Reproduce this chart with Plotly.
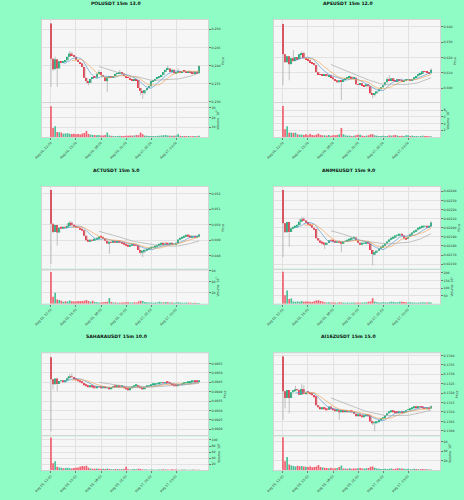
import pandas as pd
import plotly.graph_objects as go

# colours / style
BG = '#8efcc4'
PLOT_BG = '#f6f6f6'
GRID = '#e2e2e2'
UP_COLOR = '#1db37e'
DOWN_COLOR = '#f03a4c'
UP_VOL = 'rgba(29,179,126,0.8)'
DOWN_VOL = 'rgba(240,58,76,0.8)'
WICK_COLOR = '#9c9c9c'
MA_COLORS = ['#5a9bd6', '#f2a65a', '#a9a9a9']
MA_WINDOWS = [7, 11, 24]
FONT = 'DejaVu Sans'

DATE_POS = [0, 12, 24, 36, 48, 60]
DATE_LABELS = ['Aug 16, 12:00', 'Aug 16, 15:00', 'Aug 16, 18:00',
               'Aug 16, 21:00', 'Aug 17, 00:00', 'Aug 17, 03:00']

# =====================================================
# POLUSDT  (prices in 1e-4)
POL_OPEN = [2516, 2419, 2390, 2417, 2392, 2412, 2407, 2411, 2415, 2424, 2433, 2429,
            2424, 2415, 2410, 2406, 2396, 2366, 2357, 2352, 2363, 2368, 2367, 2377,
            2382, 2374, 2368, 2357, 2368, 2370, 2366, 2371, 2377, 2379, 2382, 2378,
            2371, 2367, 2366, 2361, 2359, 2363, 2360, 2338, 2330, 2324, 2332, 2338,
            2343, 2357, 2360, 2363, 2366, 2371, 2374, 2382, 2388, 2392, 2382, 2388,
            2379, 2382, 2383, 2382, 2385, 2383, 2382, 2385, 2381, 2379, 2383, 2379]
POL_CLOSE = [2419, 2390, 2417, 2392, 2412, 2407, 2411, 2415, 2424, 2433, 2429, 2424,
             2415, 2410, 2406, 2396, 2366, 2357, 2352, 2363, 2368, 2367, 2377, 2382,
             2374, 2368, 2357, 2368, 2370, 2366, 2371, 2377, 2379, 2382, 2378, 2371,
             2367, 2366, 2361, 2359, 2363, 2360, 2338, 2330, 2324, 2332, 2338, 2343,
             2357, 2360, 2363, 2366, 2371, 2374, 2382, 2388, 2392, 2382, 2388, 2379,
             2382, 2383, 2382, 2385, 2383, 2382, 2385, 2381, 2379, 2383, 2379, 2399]
POL_HIGH = {0: 2516, 2: 2425, 9: 2440, 10: 2438, 23: 2388, 33: 2388, 56: 2400, 61: 2392, 71: 2401}
POL_LOW = {0: 2341, 1: 2385, 3: 2341, 17: 2350, 18: 2345, 27: 2327, 43: 2318, 44: 2308, 45: 2320}
POL_VOL = [31.3, 9.2, 10.9, 5.1, 4.8, 4.5, 3.4, 3.6, 3.9, 3.2,
           3.0, 3.3, 2.8, 3.0, 2.6, 3.5, 4.0, 6.2, 3.1, 2.5,
           2.2, 2.0, 1.8, 2.1, 1.6, 1.5, 2.0, 4.5, 1.6, 1.2,
           1.0, 0.9, 1.0, 1.2, 0.9, 1.1, 1.3, 1.2, 1.5, 1.4,
           1.6, 2.0, 1.8, 4.5, 2.8, 1.4, 1.2, 1.0, 1.1, 1.0,
           0.9, 1.1, 1.3, 1.6, 1.8, 2.0, 1.5, 1.4, 1.2, 1.3,
           1.5, 3.0, 1.2, 1.0, 1.1, 0.9, 1.0, 0.8, 0.9, 1.0,
           0.8, 1.2]
POL_TICKS = [0.230, 0.235, 0.240, 0.245, 0.250]
POL_VOL_TICKS = [10, 20, 30]

# =====================================================
# APEUSDT  (prices in 1e-4)
APE_OPEN = [6418, 6220, 6169, 6208, 6156, 6195, 6176, 6202, 6189, 6221, 6228, 6195,
            6189, 6182, 6169, 6163, 6150, 6104, 6091, 6087, 6084, 6091, 6078, 6084,
            6071, 6058, 6051, 6038, 6051, 6045, 6058, 6064, 6071, 6074, 6064, 6068,
            6025, 6022, 6032, 6019, 6012, 6025, 6012, 5966, 5960, 5966, 5979, 5993,
            6006, 6019, 6038, 6058, 6051, 6064, 6051, 6045, 6058, 6051, 6045, 6051,
            6054, 6058, 6051, 6058, 6071, 6078, 6091, 6097, 6110, 6107, 6104, 6097]
APE_CLOSE = [6220, 6169, 6208, 6156, 6195, 6176, 6202, 6189, 6221, 6228, 6195, 6189,
             6182, 6169, 6163, 6150, 6104, 6091, 6087, 6084, 6091, 6078, 6084, 6071,
             6058, 6051, 6038, 6051, 6045, 6058, 6064, 6071, 6074, 6064, 6068, 6025,
             6022, 6032, 6019, 6012, 6025, 6012, 5966, 5960, 5966, 5979, 5993, 6006,
             6019, 6038, 6058, 6051, 6064, 6051, 6045, 6058, 6051, 6045, 6051, 6054,
             6058, 6051, 6058, 6071, 6078, 6091, 6097, 6110, 6107, 6104, 6097, 6120]
APE_HIGH = {0: 6418, 5: 6248, 9: 6240, 10: 6236, 50: 6070, 51: 6084, 57: 6062, 65: 6098, 71: 6128}
APE_LOW = {0: 6019, 3: 6051, 28: 5921, 43: 5934, 44: 5945}
APE_VOL = [9.2, 2.3, 3.2, 1.3, 1.3, 1.2, 1.3, 0.8, 0.7, 0.7,
           0.6, 0.8, 0.5, 1.0, 0.6, 0.5, 0.7, 1.0, 0.6, 0.5,
           0.5, 0.4, 0.6, 0.4, 0.5, 0.5, 0.6, 0.8, 2.7, 0.8,
           0.5, 0.4, 0.4, 0.3, 0.4, 0.5, 0.7, 0.7, 0.4, 0.3,
           0.4, 0.5, 0.8, 0.8, 0.5, 0.4, 0.3, 0.3, 0.4, 0.3,
           0.3, 0.5, 0.4, 0.5, 0.6, 0.4, 0.3, 0.4, 0.3, 0.5,
           0.5, 0.3, 0.4, 0.3, 0.3, 0.2, 0.3, 0.4, 0.3, 0.3,
           0.2, 0.2]
APE_TICKS = [0.600, 0.610, 0.620, 0.630, 0.640]
APE_VOL_TICKS = [2, 4, 6, 8]

# =====================================================
# ACTUSDT  (prices in 1e-5)
ACT_OPEN = [5226, 5006, 4953, 4998, 4949, 4981, 4977, 4985, 4981, 4991, 5013, 4996,
            4989, 4985, 4981, 4974, 4964, 4928, 4900, 4891, 4902, 4898, 4904, 4915,
            4923, 4919, 4913, 4896, 4879, 4889, 4885, 4891, 4887, 4894, 4889, 4881,
            4874, 4868, 4862, 4868, 4874, 4870, 4866, 4836, 4819, 4828, 4836, 4843,
            4849, 4853, 4857, 4862, 4868, 4874, 4879, 4872, 4877, 4874, 4879, 4872,
            4874, 4879, 4904, 4913, 4917, 4926, 4932, 4928, 4921, 4923, 4919, 4926]
ACT_CLOSE = [5006, 4953, 4998, 4949, 4981, 4977, 4985, 4981, 4991, 5013, 4996, 4989,
             4985, 4981, 4974, 4964, 4928, 4900, 4891, 4902, 4898, 4904, 4915, 4923,
             4919, 4913, 4896, 4879, 4889, 4885, 4891, 4887, 4894, 4889, 4881, 4874,
             4868, 4862, 4868, 4874, 4870, 4866, 4836, 4819, 4828, 4836, 4843, 4849,
             4853, 4857, 4862, 4868, 4874, 4879, 4872, 4877, 4874, 4879, 4872, 4874,
             4879, 4904, 4913, 4917, 4926, 4932, 4928, 4921, 4923, 4919, 4926, 4936]
ACT_HIGH = {0: 5226, 8: 5010, 9: 5025, 10: 5020, 55: 4890, 66: 4940, 71: 4942}
ACT_LOW = {0: 4747, 1: 4945, 3: 4864, 28: 4811, 43: 4805, 44: 4789, 45: 4815}
ACT_VOL = [58, 12.9, 20, 7.5, 6.8, 5.2, 3.5, 4.5, 4.0, 5.8,
           4.6, 4.2, 3.8, 5.0, 4.3, 5.0, 5.5, 6.8, 4.8, 3.6,
           5.2, 3.0, 2.8, 2.4, 2.2, 2.6, 3.0, 3.4, 10.5, 3.2,
           2.2, 2.0, 1.8, 1.6, 2.0, 2.4, 2.8, 2.5, 2.0, 2.2,
           2.6, 2.4, 4.2, 5.5, 5.0, 3.0, 2.5, 2.2, 2.0, 1.8,
           2.0, 2.2, 3.4, 2.6, 2.4, 3.0, 2.8, 2.2, 2.0, 1.8,
           2.4, 2.6, 2.0, 1.8, 1.6, 2.0, 1.8, 1.6, 1.4, 1.6,
           1.4, 1.5]
ACT_TICKS = [0.048, 0.049, 0.050, 0.051, 0.052]
ACT_VOL_TICKS = [20, 40, 60]

# =====================================================
# ANIMEUSDT  (prices in 1e-6)
ANIME_OPEN = [22414, 22048, 21950, 22062, 21954, 21994, 22008, 22022, 22030, 22066, 22091, 22080,
              22062, 22044, 22026, 22001, 21986, 21886, 21860, 21846, 21835, 21821, 21832, 21864,
              21860, 21850, 21842, 21857, 21846, 21835, 21850, 21857, 21864, 21871, 21886, 21893,
              21864, 21835, 21821, 21828, 21835, 21846, 21828, 21756, 21713, 21731, 21749, 21771,
              21792, 21807, 21828, 21850, 21871, 21886, 21900, 21914, 21922, 21932, 21914, 21886,
              21878, 21900, 21929, 21947, 21965, 21979, 21994, 22004, 22015, 22022, 22008, 22015]
ANIME_CLOSE = [22048, 21950, 22062, 21954, 21994, 22008, 22022, 22030, 22066, 22091, 22080, 22062,
               22044, 22026, 22001, 21986, 21886, 21860, 21846, 21835, 21821, 21832, 21864, 21860,
               21850, 21842, 21857, 21846, 21835, 21850, 21857, 21864, 21871, 21886, 21893, 21864,
               21835, 21821, 21828, 21835, 21846, 21828, 21756, 21713, 21731, 21749, 21771, 21792,
               21807, 21828, 21850, 21871, 21886, 21900, 21914, 21922, 21932, 21914, 21886, 21878,
               21900, 21929, 21947, 21965, 21979, 21994, 22004, 22015, 22022, 22008, 22015, 22058]
ANIME_HIGH = {0: 22414, 8: 22100, 9: 22120, 10: 22115, 61: 21940, 71: 22075}
ANIME_LOW = {0: 21677, 3: 21792, 20: 21767, 28: 21731, 43: 21587, 44: 21700, 58: 21870}
ANIME_VOL = [207, 55, 86, 30, 33, 14, 12, 15, 13, 17,
             12, 15, 14, 13, 11, 16, 20, 22, 18, 14,
             10, 8, 9, 7, 8, 7, 6, 9, 8, 7,
             6, 7, 6, 8, 7, 6, 7, 6, 8, 7,
             9, 12, 14, 36, 14, 9, 8, 7, 9, 8,
             7, 10, 12, 11, 9, 10, 13, 12, 11, 9,
             8, 10, 8, 7, 6, 8, 7, 9, 8, 7,
             10, 8]
ANIME_TICKS = [0.0216, 0.0217, 0.0218, 0.0219, 0.0220, 0.0221, 0.0222, 0.0223, 0.0224]
ANIME_VOL_TICKS = [50, 100, 150, 200]

# =====================================================
# SAHARAUSDT  (prices in 1e-5)
SAHARA_OPEN = [9584, 9467, 9440, 9471, 9441, 9457, 9460, 9455, 9460, 9472, 9481, 9478,
               9471, 9464, 9459, 9452, 9447, 9438, 9431, 9426, 9429, 9426, 9422, 9428,
               9424, 9421, 9424, 9419, 9422, 9417, 9424, 9428, 9426, 9429, 9428, 9431,
               9422, 9416, 9410, 9419, 9428, 9431, 9433, 9426, 9421, 9416, 9424, 9429,
               9433, 9436, 9438, 9440, 9443, 9445, 9447, 9445, 9448, 9447, 9441, 9436,
               9433, 9431, 9436, 9435, 9440, 9445, 9448, 9450, 9453, 9457, 9455, 9453]
SAHARA_CLOSE = [9467, 9440, 9471, 9441, 9457, 9460, 9455, 9460, 9472, 9481, 9478, 9471,
                9464, 9459, 9452, 9447, 9438, 9431, 9426, 9429, 9426, 9422, 9428, 9424,
                9421, 9424, 9419, 9422, 9417, 9424, 9428, 9426, 9429, 9428, 9431, 9422,
                9416, 9410, 9419, 9428, 9431, 9433, 9426, 9421, 9416, 9424, 9429, 9433,
                9436, 9438, 9440, 9443, 9445, 9447, 9445, 9448, 9447, 9441, 9436, 9433,
                9431, 9436, 9435, 9440, 9445, 9448, 9450, 9453, 9457, 9455, 9453, 9459]
SAHARA_HIGH = {0: 9584, 8: 9480, 9: 9495, 10: 9498, 71: 9462}
SAHARA_LOW = {0: 9188, 1: 9412, 3: 9403, 20: 9418, 37: 9405, 44: 9410}
SAHARA_VOL = [108, 23.5, 29.4, 11.8, 9.0, 8.0, 6.5, 7.5, 8.5, 7.0,
              6.0, 7.2, 8.0, 9.5, 11.5, 14.0, 13.0, 15.0, 8.0, 6.0,
              5.5, 5.0, 6.2, 4.8, 4.0, 5.2, 4.5, 6.0, 4.2, 3.8,
              3.5, 4.0, 3.6, 3.2, 3.8, 4.5, 12.0, 3.5, 3.0, 3.2,
              4.0, 3.5, 5.5, 4.0, 3.0, 2.8, 2.5, 2.2, 2.8, 2.5,
              2.2, 3.0, 2.6, 2.4, 3.2, 2.8, 2.4, 2.0, 3.5, 2.6,
              2.4, 2.2, 2.0, 3.0, 2.6, 2.2, 2.0, 1.8, 2.4, 2.0,
              1.6, 1.4]
SAHARA_TICKS = [0.0920, 0.0925, 0.0930, 0.0935, 0.0940, 0.0945, 0.0950, 0.0955]
SAHARA_VOL_TICKS = [20, 40, 60, 80, 100]

# =====================================================
# AI16ZUSDT  (prices in 1e-5)
AI16Z_OPEN = [13395, 13210, 13174, 13217, 13174, 13205, 13212, 13219, 13216, 13191, 13222, 13195,
              13205, 13202, 13197, 13190, 13183, 13136, 13126, 13119, 13122, 13116, 13112, 13129,
              13119, 13112, 13105, 13109, 13102, 13103, 13102, 13105, 13100, 13103, 13102, 13091,
              13081, 13085, 13078, 13074, 13081, 13088, 13081, 13050, 13040, 13043, 13050, 13057,
              13064, 13071, 13081, 13093, 13103, 13109, 13102, 13098, 13095, 13100, 13097, 13102,
              13109, 13112, 13119, 13122, 13126, 13124, 13128, 13126, 13122, 13119, 13122, 13119]
AI16Z_CLOSE = [13210, 13174, 13217, 13174, 13205, 13212, 13219, 13216, 13191, 13222, 13195, 13205,
               13202, 13197, 13190, 13183, 13136, 13126, 13119, 13122, 13116, 13112, 13129, 13119,
               13112, 13105, 13109, 13102, 13103, 13102, 13105, 13100, 13103, 13102, 13091, 13081,
               13085, 13078, 13074, 13081, 13088, 13081, 13050, 13040, 13043, 13050, 13057, 13064,
               13071, 13081, 13093, 13103, 13109, 13102, 13098, 13095, 13100, 13097, 13102, 13109,
               13112, 13119, 13122, 13126, 13124, 13128, 13126, 13122, 13119, 13122, 13119, 13131]
AI16Z_HIGH = {0: 13395, 6: 13240, 9: 13248, 10: 13242, 71: 13136}
AI16Z_LOW = {0: 13059, 1: 13119, 3: 13093, 27: 13059, 43: 13030, 44: 12998}
AI16Z_VOL = [69, 19, 28, 12, 10, 9, 8, 9.5, 8.5, 9,
             8, 7.5, 7, 8, 6.5, 7, 8, 11, 7, 6,
             5.5, 5, 4.5, 5.5, 4, 4.5, 5, 7, 10, 4,
             3.5, 3, 4.5, 3.2, 4, 3.5, 4.2, 5, 4, 3.5,
             4.2, 4.8, 7.5, 8, 5.5, 3.5, 3, 2.8, 2.5, 3,
             2.6, 3.2, 3.6, 2.8, 3.4, 4.2, 3.6, 3.8, 3, 2.8,
             3.2, 2.4, 2.2, 3, 2.6, 2.4, 2, 2.8, 2.2, 2,
             1.8, 1.6]
AI16Z_TICKS = [0.1300, 0.1305, 0.1310, 0.1315, 0.1320, 0.1325, 0.1330, 0.1335, 0.1340]
AI16Z_VOL_TICKS = [20, 40, 60]

PANELS = [
    dict(title='POLUSDT 15m 13.0', unit=1e-4, open=POL_OPEN, close=POL_CLOSE, high=POL_HIGH,
         low=POL_LOW, vol=POL_VOL, ticks=POL_TICKS, fmt='{:.3f}', yrange=(0.22993, 0.25257),
         vticks=POL_VOL_TICKS, vrange=(0, 34.7), vexp='6'),
    dict(title='APEUSDT 15m 12.0', unit=1e-4, open=APE_OPEN, close=APE_CLOSE, high=APE_HIGH,
         low=APE_LOW, vol=APE_VOL, ticks=APE_TICKS, fmt='{:.3f}', yrange=(0.59095, 0.64438),
         vticks=APE_VOL_TICKS, vrange=(0, 10.1), vexp='6'),
    dict(title='ACTUSDT 15m 5.0', unit=1e-5, open=ACT_OPEN, close=ACT_CLOSE, high=ACT_HIGH,
         low=ACT_LOW, vol=ACT_VOL, ticks=ACT_TICKS, fmt='{:.3f}', yrange=(0.047148, 0.052468),
         vticks=ACT_VOL_TICKS, vrange=(0, 62), vexp='5'),
    dict(title='ANIMEUSDT 15m 9.0', unit=1e-6, open=ANIME_OPEN, close=ANIME_CLOSE, high=ANIME_HIGH,
         low=ANIME_LOW, vol=ANIME_VOL, ticks=ANIME_TICKS, fmt='{:.5f}', yrange=(0.021551, 0.022450),
         vticks=ANIME_VOL_TICKS, vrange=(0, 220), vexp='5'),
    dict(title='SAHARAUSDT 15m 10.0', unit=1e-5, open=SAHARA_OPEN, close=SAHARA_CLOSE, high=SAHARA_HIGH,
         low=SAHARA_LOW, vol=SAHARA_VOL, ticks=SAHARA_TICKS, fmt='{:.4f}', yrange=(0.09167, 0.09605),
         vticks=SAHARA_VOL_TICKS, vrange=(0, 112), vexp='4'),
    dict(title='AI16ZUSDT 15m 15.0', unit=1e-5, open=AI16Z_OPEN, close=AI16Z_CLOSE, high=AI16Z_HIGH,
         low=AI16Z_LOW, vol=AI16Z_VOL, ticks=AI16Z_TICKS, fmt='{:.4f}', yrange=(0.12976, 0.13412),
         vticks=AI16Z_VOL_TICKS, vrange=(0, 71), vexp='5'),
]

W, H = 464, 500
COL_X = [(42 / W, 208 / W), (274 / W, 440 / W)]
ROW_TOP = [20, 186.7, 353.3]
TITLE_Y = [3.5, 170, 336.5]
X_RANGE = [-4.3, 75.3]
TICK_FONT = dict(family=FONT, size=3.2, color='#333333')


def axis_name(n, letter):
    return letter if n == 1 else f'{letter}{n}'


def layout_key(n, letter):
    return f'{letter}axis' if n == 1 else f'{letter}axis{n}'


fig = go.Figure()
layout = {}
annotations = []

for k, p in enumerate(PANELS):
    r, c = divmod(k, 2)
    u = p['unit']
    n = len(p['close'])
    idx = list(range(n))
    o = [v * u for v in p['open']]
    cl = [v * u for v in p['close']]
    hi = [p['high'].get(i, max(p['open'][i], p['close'][i])) * u for i in idx]
    lo = [p['low'].get(i, min(p['open'][i], p['close'][i])) * u for i in idx]
    up = [cl[i] >= o[i] for i in idx]
    min_h = (p['yrange'][1] - p['yrange'][0]) * 0.008

    pa, va = 2 * k + 1, 2 * k + 2
    px_, py_ = axis_name(pa, 'x'), axis_name(pa, 'y')
    vx_, vy_ = axis_name(va, 'x'), axis_name(va, 'y')

    # wicks
    wx, wy = [], []
    for i in idx:
        wx += [i, i, None]
        wy += [lo[i], hi[i], None]
    fig.add_trace(go.Scatter(x=wx, y=wy, mode='lines', line=dict(color=WICK_COLOR, width=0.6),
                             xaxis=px_, yaxis=py_, hoverinfo='skip'))

    # bodies
    fig.add_trace(go.Bar(x=idx, y=[max(abs(cl[i] - o[i]), min_h) for i in idx],
                         base=[min(o[i], cl[i]) for i in idx],
                         marker=dict(color=[UP_COLOR if f else DOWN_COLOR for f in up], line_width=0),
                         width=0.8, xaxis=px_, yaxis=py_))

    # moving averages
    closes = pd.Series(cl)
    for w, col in zip(MA_WINDOWS, MA_COLORS):
        fig.add_trace(go.Scatter(x=idx, y=closes.rolling(w).mean(), mode='lines',
                                 line=dict(color=col, width=0.7), xaxis=px_, yaxis=py_))

    # volume
    fig.add_trace(go.Bar(x=idx, y=p['vol'],
                         marker=dict(color=[UP_VOL if f else DOWN_VOL for f in up], line_width=0),
                         width=0.8, xaxis=vx_, yaxis=vy_))

    top = ROW_TOP[r]
    price_dom = [1 - (top + 82) / H, 1 - top / H]
    vol_dom = [1 - (top + 117) / H, 1 - (top + 83) / H]
    frame = dict(showline=True, mirror=True, linecolor='#d4d4d4', linewidth=0.6,
                 showgrid=True, gridcolor=GRID, gridwidth=0.5, zeroline=False, automargin=False)

    layout[layout_key(pa, 'x')] = dict(domain=COL_X[c], anchor=py_, range=X_RANGE,
                                       tickvals=DATE_POS, showticklabels=False, ticks='', **frame)
    layout[layout_key(pa, 'y')] = dict(domain=price_dom, anchor=px_, side='right', range=p['yrange'],
                                       tickvals=p['ticks'], ticktext=[p['fmt'].format(t) for t in p['ticks']],
                                       ticks='outside', ticklen=2, tickwidth=0.5, tickcolor='#777',
                                       tickfont=TICK_FONT,
                                       title=dict(text='Price', font=TICK_FONT, standoff=1), **frame)
    layout[layout_key(va, 'x')] = dict(domain=COL_X[c], anchor=vy_, range=X_RANGE,
                                       tickvals=DATE_POS, ticktext=DATE_LABELS, tickangle=-45,
                                       ticks='outside', ticklen=2, tickwidth=0.5, tickcolor='#777',
                                       tickfont=TICK_FONT, **frame)
    layout[layout_key(va, 'y')] = dict(domain=vol_dom, anchor=vx_, side='right', range=p['vrange'],
                                       tickvals=p['vticks'], ticks='outside', ticklen=2, tickwidth=0.5,
                                       tickcolor='#777', tickfont=TICK_FONT,
                                       title=dict(text=f'Volume  10<sup>{p["vexp"]}</sup>',
                                                  font=TICK_FONT, standoff=1), **frame)

    annotations.append(dict(text=f'<b>{p["title"]}</b>', xref='paper', yref='paper',
                            x=0.25 + 0.5 * c, y=1 - TITLE_Y[r] / H, xanchor='center', yanchor='middle',
                            showarrow=False, font=dict(family=FONT, size=4.6, color='#111111')))

fig.update_layout(width=W, height=H, margin=dict(l=0, r=0, t=0, b=0, autoexpand=False),
                  paper_bgcolor=BG, plot_bgcolor=PLOT_BG, showlegend=False,
                  annotations=annotations, font=dict(family=FONT), **layout)

# remove the default page margin so the figure sits at the window's corner
fig.write_html("out.html", config={'displayModeBar': False},
               post_script="document.body.style.margin='0';document.body.style.overflow='hidden';")
